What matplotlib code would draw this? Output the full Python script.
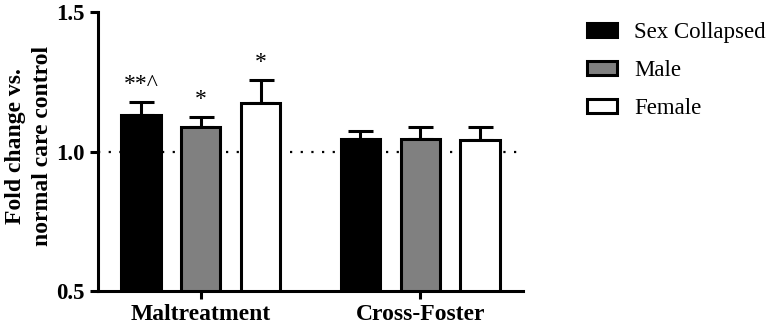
import matplotlib
matplotlib.use("Agg")
import matplotlib.pyplot as plt
import numpy as np
from matplotlib.patches import Patch
from matplotlib import font_manager

groups = ["Maltreatment", "Cross-Foster"]
series = ["Sex Collapsed", "Male", "Female"]
means = {
    "Sex Collapsed": [1.131, 1.045],
    "Male": [1.087, 1.044],
    "Female": [1.173, 1.043],
}
errs = {
    "Sex Collapsed": [0.046, 0.030],
    "Male": [0.036, 0.043],
    "Female": [0.083, 0.044],
}
annotations = {
    "Sex Collapsed": ["**^", ""],
    "Male": ["*", ""],
    "Female": ["*", ""],
}
colors = {"Sex Collapsed": "#000000", "Male": "#808080", "Female": "#ffffff"}

names = sorted({f.name for f in font_manager.fontManager.ttflist})
serif_pref = [n for n in ["Liberation Serif", "Times New Roman", "Nimbus Roman", "DejaVu Serif"] if n in names]
plt.rcParams['font.family'] = serif_pref + ['DejaVu Sans']

fig = plt.figure(figsize=(7.68, 3.28), dpi=100)
ax = fig.add_axes([98/768, 1-291/328, (523-98)/768, (291-12)/328])

x = np.arange(len(groups))
width = 0.18
offsets = [-0.273, 0.0, 0.273]

ax.axhline(1.0, color="black", linestyle=(0, (1, 3.8)), linewidth=1.6, zorder=1)

for s, off in zip(series, offsets):
    xs = x + off
    ax.bar(xs, np.array(means[s]) - 0.5, bottom=0.5, width=width, color=colors[s],
           edgecolor="black", linewidth=2.2, zorder=3)
    ax.errorbar(xs, means[s], yerr=[np.zeros(len(xs)), errs[s]], fmt="none",
                ecolor="black", elinewidth=2.2, capsize=9, capthick=2.2, zorder=2)
    for xi, m, e, a in zip(xs, means[s], errs[s], annotations[s]):
        if a:
            ax.text(xi, m + e + 0.025, a, ha="center", va="bottom", fontsize=17)

ax.set_xlim(-0.468, 1.468)
ax.set_ylim(0.5, 1.5)
ax.set_yticks([0.5, 1.0, 1.5])
ax.set_yticklabels(["0.5", "1.0", "1.5"], fontsize=16.5, fontweight="bold")
ax.set_xticks(x)
ax.set_xticklabels(groups, fontsize=17, fontweight="bold")
for sp in ["top", "right"]:
    ax.spines[sp].set_visible(False)
for sp in ["left", "bottom"]:
    ax.spines[sp].set_linewidth(2.2)
ax.tick_params(axis="both", width=2.2, length=6)
ax.tick_params(axis="x", pad=3)
ax.set_ylabel("Fold change vs.\nnormal care control", fontsize=17, fontweight="bold",
              linespacing=1.4)
ax.yaxis.set_label_coords(-0.105, 0.52)

handles = [Patch(facecolor=colors[s], edgecolor="black", linewidth=2.2, label=s) for s in series]
fig.legend(handles=handles, loc="upper left", bbox_to_anchor=(587/768, 1-22/328),
           frameon=False, fontsize=16.5, handlelength=1.31, handleheight=0.57,
           labelspacing=0.74, handletextpad=0.74, borderpad=0, borderaxespad=0)

fig.savefig("out.png", dpi=100)
